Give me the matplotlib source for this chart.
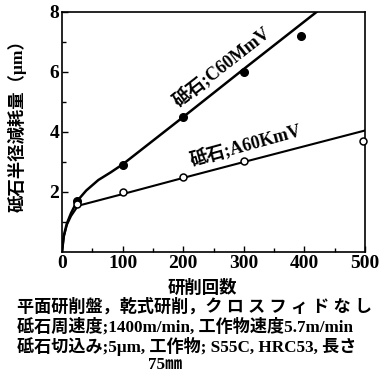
import matplotlib
matplotlib.use("Agg")
import matplotlib.pyplot as plt

FAM = ['Liberation Serif', 'Noto Sans CJK JP', 'DejaVu Sans']
plt.rcParams['font.family'] = FAM

# Measured points
c60_x = [25, 100, 200, 300, 395]
c60_y = [1.7, 2.9, 4.5, 6.0, 7.2]
a60_x = [25, 100, 200, 300, 497]
a60_y = [1.6, 2.0, 2.5, 3.05, 3.7]

# Fitted curves
c60_curve_x = [0, 3, 8, 15, 25, 40, 60, 80, 100, 200, 300, 420]
c60_curve_y = [0, 0.55, 0.95, 1.3, 1.7, 2.05, 2.4, 2.65, 2.92, 4.5, 6.1, 8.0]
a60_curve_x = [0, 3, 8, 15, 25, 30, 100, 200, 300, 500]
a60_curve_y = [0, 0.5, 0.9, 1.2, 1.5, 1.56, 1.93, 2.47, 3.0, 4.05]

xticks = [0, 100, 200, 300, 400, 500]
yticks = [2, 4, 6, 8]

ylabel = "砥石半径減耗量（μm）"
xlabel = "研削回数"
label_c = "砥石;C60MmV"
label_a = "砥石;A60KmV"
notes = ["平面研削盤，乾式研削，ク ロ ス フ ィ ド な し",
         "砥石周速度;1400m/min, 工作物速度5.7m/min",
         "砥石切込み;5μm, 工作物; S55C, HRC53, 長さ",
         "75㎜"]

fig = plt.figure(figsize=(3.8, 3.8), dpi=100)
ax = fig.add_axes([62/380, 1-252/380, 303/380, 240/380])

ax.plot(c60_curve_x, c60_curve_y, color='black', lw=1.8)
ax.plot(a60_curve_x, a60_curve_y, color='black', lw=1.5)
ax.plot(c60_x, c60_y, 'o', color='black', ms=5.5)
ax.plot(a60_x, a60_y, 'o', mfc='white', mec='black', ms=5, mew=1.1,
        clip_on=False, zorder=5)

ax.set_xlim(0, 500)
ax.set_ylim(0, 8)
ax.set_xticks(xticks)
ax.set_yticks(yticks)
ax.set_xticks([50, 150, 250, 350, 450], minor=True)
ax.set_yticks([1, 3, 5, 7], minor=True)
ax.tick_params(which='both', direction='in', top=False, right=False)
ax.tick_params(which='major', length=4, width=1, labelsize=14, pad=2)
ax.tick_params(which='minor', length=3, width=1)
for lab in ax.get_xticklabels() + ax.get_yticklabels():
    lab.set_family('Liberation Serif')
    lab.set_fontweight('bold')
for s in ax.spines.values():
    s.set_linewidth(1.2)

ax.text(265, 6.15, label_c, rotation=38, rotation_mode='anchor',
        ha='center', va='center', fontsize=13, fontweight='bold')
ax.text(303, 3.55, label_a, rotation=15.5, rotation_mode='anchor',
        ha='center', va='center', fontsize=13, fontweight='bold')

fig.text(17/380, 1-122/380, ylabel, rotation=90, ha='center', va='center',
         fontsize=12.5, fontweight='bold')
fig.text(202/380, 1-288/380, xlabel, ha='center', va='center',
         fontsize=12.5, fontweight='bold')

ys = [307, 327, 346, 365]
xs = [17, 17, 17, 148]
for t, yy, xx in zip(notes, ys, xs):
    fig.text(xx/380, 1-yy/380, t, ha='left', va='center', fontsize=12.3,
             fontweight='bold')

fig.savefig("out.png", dpi=100)
